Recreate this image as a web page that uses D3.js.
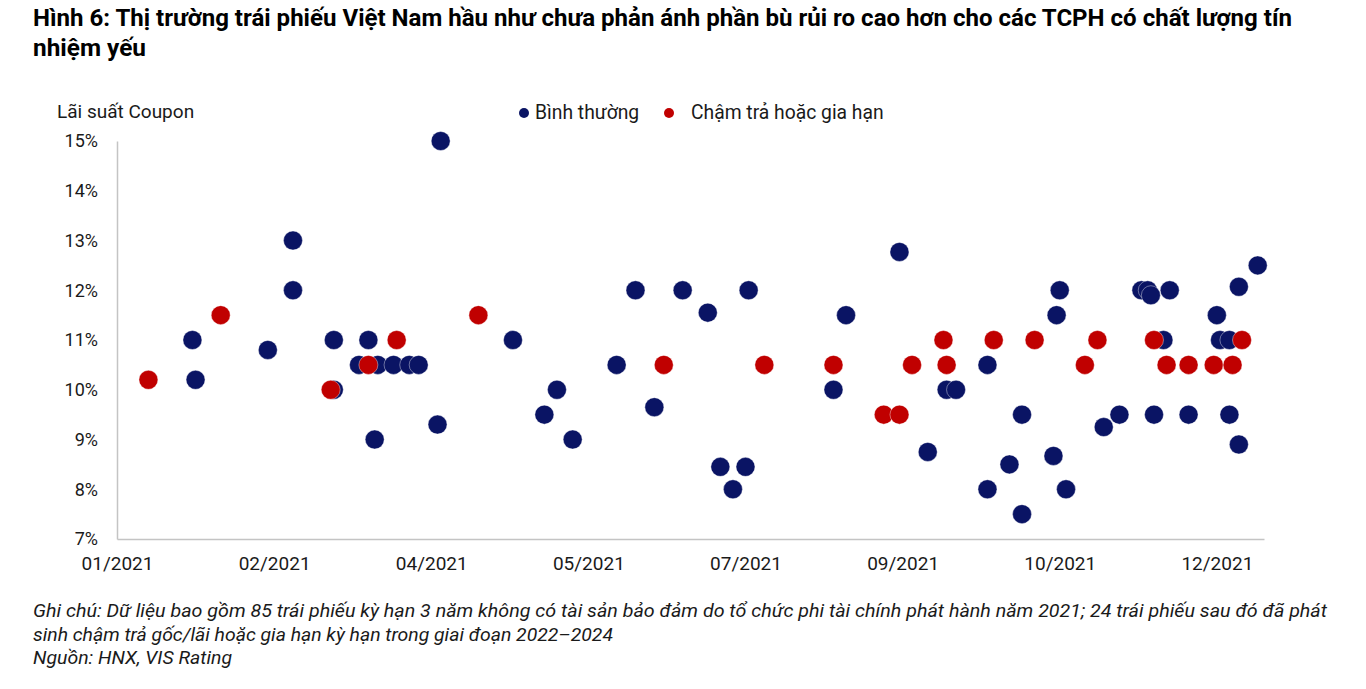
<!DOCTYPE html>
<html>
<head>
<meta charset="utf-8">
<script src="https://cdn.jsdelivr.net/npm/d3@7/dist/d3.min.js"></script>
<style>
  html, body { margin: 0; padding: 0; background: #fff; }
  svg { display: block; font-family: Roboto, "Noto Sans", sans-serif; }
</style>
</head>
<body>
<svg id="chart" width="1366" height="689"></svg>
<script>
// ---- DATA ----
const titleLines = [
  "Hình 6: Thị trường trái phiếu Việt Nam hầu như chưa phản ánh phần bù rủi ro cao hơn cho các TCPH có chất lượng tín",
  "nhiệm yếu"
];
const noteLines = [
  "Ghi chú: Dữ liệu bao gồm 85 trái phiếu kỳ hạn 3 năm không có tài sản bảo đảm do tổ chức phi tài chính phát hành năm 2021; 24 trái phiếu sau đó đã phát",
  "sinh chậm trả gốc/lãi hoặc gia hạn kỳ hạn trong giai đoạn 2022–2024",
  "Nguồn: HNX, VIS Rating"
];
const yAxisTitle = "Lãi suất Coupon";
const seriesNames = ["Bình thường", "Chậm trả hoặc gia hạn"];
const yTicks = [7, 8, 9, 10, 11, 12, 13, 14, 15];
const xTickDates = ["2021-01-01", "2021-02-20", "2021-04-11", "2021-05-31", "2021-07-20", "2021-09-08", "2021-10-28", "2021-12-17"];

// Normal bonds: issue date, coupon (%)
const normalDates = [
  "2021-01-26","2021-01-25","2021-02-18","2021-02-26","2021-02-26","2021-03-11","2021-03-11","2021-03-19",
  "2021-03-22","2021-03-25","2021-03-24","2021-03-30","2021-04-04","2021-04-07","2021-04-14","2021-04-13",
  "2021-05-07","2021-05-17","2021-05-21","2021-05-26","2021-06-09","2021-06-15","2021-06-21","2021-06-30",
  "2021-07-08","2021-07-12","2021-07-20","2021-07-16","2021-07-21","2021-08-17","2021-08-21","2021-09-07",
  "2021-09-16","2021-09-22","2021-09-25","2021-10-05","2021-10-05","2021-10-12","2021-10-16","2021-10-16",
  "2021-10-26","2021-10-30","2021-10-28","2021-10-27","2021-11-11","2021-11-16","2021-11-23","2021-11-25",
  "2021-11-26","2021-12-02","2021-11-30","2021-11-27","2021-12-08","2021-12-17","2021-12-18","2021-12-21",
  "2021-12-21","2021-12-24","2021-12-24","2021-12-30"
];
const normalRates = [
  10.2, 11, 10.8, 13, 12, 11, 10, 10.5,
  11, 10.5, 9, 10.5, 10.5, 10.5, 15, 9.3,
  11, 9.5, 10, 9, 10.5, 12, 9.65, 12,
  11.55, 8.45, 8.45, 8, 12, 10, 11.5, 12.77,
  8.75, 10, 10, 10.5, 8, 8.5, 7.5, 9.5,
  8.67, 8, 12, 11.5, 9.25, 9.5, 12, 12,
  11.9, 12, 11, 9.5, 9.5, 11.5, 11, 11,
  9.5, 8.9, 12.07, 12.5
];
// Delayed / extended bonds
const delayedDates = [
  "2021-01-11","2021-02-03","2021-03-10","2021-03-22","2021-03-31","2021-04-26","2021-06-24","2021-07-26",
  "2021-08-17","2021-09-02","2021-09-07","2021-09-11","2021-09-21","2021-09-22","2021-10-07","2021-10-20",
  "2021-11-05","2021-11-09","2021-11-27","2021-12-01","2021-12-08","2021-12-16","2021-12-22","2021-12-25"
];
const delayedRates = [
  10.2, 11.5, 10, 10.5, 11, 11.5, 10.5, 10.5,
  10.5, 9.5, 9.5, 10.5, 11, 10.5, 11, 11,
  10.5, 11, 11, 10.5, 10.5, 10.5, 10.5, 11
];
const colors = ["#0a1464", "#c00000"];

// ---- CHART ----
const parse = d3.timeParse("%Y-%m-%d");
const fmt = d3.timeFormat("%m/%Y");
const svg = d3.select("#chart");

const plot = { left: 117, right: 1264, top: 141, bottom: 539 };
const x = d3.scaleTime()
  .domain([parse("2021-01-01"), parse("2022-01-01")])
  .range([plot.left, plot.right]);
const y = d3.scaleLinear().domain([7, 15]).range([plot.bottom, plot.top]);

// Title
const titleW = [1259, 113];
svg.append("g").selectAll("text").data(titleLines).join("text")
  .attr("x", 33).attr("y", (d, i) => 26 + i * 30)
  .attr("font-size", 23).attr("font-weight", 700).attr("fill", "#000")
  .attr("textLength", (d, i) => titleW[i]).attr("lengthAdjust", "spacingAndGlyphs")
  .text(d => d);

// Axis title
svg.append("text").attr("x", 57).attr("y", 118).attr("font-size", 19).attr("fill", "#1a1a1a").text(yAxisTitle);

// Legend
const legend = svg.append("g");
const legX = [524, 669], legTX = [535, 691];
seriesNames.forEach((n, i) => {
  legend.append("circle").attr("cx", legX[i]).attr("cy", 113).attr("r", 5).attr("fill", colors[i]);
  legend.append("text").attr("x", legTX[i]).attr("y", 119).attr("font-size", 19.3).attr("fill", "#1a1a1a").text(n);
});

// Y axis
const yAxis = d3.axisLeft(y).tickValues(yTicks).tickFormat(d => d + "%").tickSize(0).tickPadding(19);
const gy = svg.append("g").attr("transform", `translate(${plot.left},0)`).call(yAxis);
gy.select(".domain").attr("stroke", "#c4c4c4").attr("stroke-width", 1.5);
gy.selectAll("text").attr("font-size", 18).attr("fill", "#1a1a1a").attr("font-family", "Roboto, sans-serif");

// X axis
const xAxis = d3.axisBottom(x).tickValues(xTickDates.map(parse)).tickFormat(fmt).tickSize(0).tickPadding(18);
const gx = svg.append("g").attr("transform", `translate(0,${plot.bottom})`).call(xAxis);
gx.select(".domain").attr("stroke", "#c4c4c4").attr("stroke-width", 1.5);
gx.selectAll("text").attr("font-size", 19).attr("fill", "#1a1a1a").attr("font-family", "Roboto, sans-serif");

// Points
const normal = normalDates.map((d, i) => ({ date: parse(d), rate: normalRates[i] }));
const delayed = delayedDates.map((d, i) => ({ date: parse(d), rate: delayedRates[i] }));
[normal, delayed].forEach((arr, k) => {
  svg.append("g").selectAll("circle").data(arr).join("circle")
    .attr("cx", d => x(d.date)).attr("cy", d => y(d.rate)).attr("r", 9.5)
    .attr("fill", colors[k]).attr("stroke", "#ffffff").attr("stroke-width", 0.4);
});

// Notes
const noteW = [1294, 580, 199];
svg.append("g").selectAll("text").data(noteLines).join("text")
  .attr("x", 33).attr("y", (d, i) => 617 + i * 23.5)
  .attr("font-size", 19).attr("font-style", "italic").attr("fill", "#1a1a1a")
  .attr("textLength", (d, i) => noteW[i]).attr("lengthAdjust", "spacingAndGlyphs")
  .text(d => d);
</script>
</body>
</html>
